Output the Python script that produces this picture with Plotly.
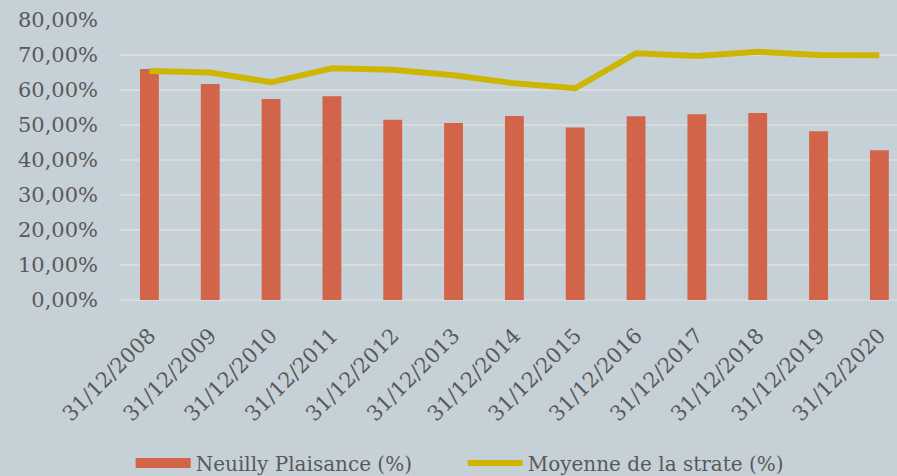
import plotly.graph_objects as go

categories = ["31/12/2008", "31/12/2009", "31/12/2010", "31/12/2011", "31/12/2012",
              "31/12/2013", "31/12/2014", "31/12/2015", "31/12/2016", "31/12/2017",
              "31/12/2018", "31/12/2019", "31/12/2020"]
neuilly = [66.0, 61.7, 57.4, 58.2, 51.5, 50.6, 52.6, 49.3, 52.5, 53.1, 53.4, 48.2, 42.8]
strate = [65.4, 65.0, 62.2, 66.2, 65.8, 64.2, 61.9, 60.5, 70.5, 69.7, 70.9, 70.0, 69.9]
ytick_vals = [0, 10, 20, 30, 40, 50, 60, 70, 80]
ytick_text = ["0,00%", "10,00%", "20,00%", "30,00%", "40,00%", "50,00%", "60,00%", "70,00%", "80,00%"]

bar_color = "#d2644a"
line_color = "#cdb500"
text_color = "#595959"
grid_color = "#d9dadb"
bg = "#c6d1d7"
font_family = "DejaVu Serif"

fig = go.Figure()
fig.add_trace(go.Bar(x=categories, y=neuilly, name="Neuilly Plaisance (%)",
                     marker=dict(color=bar_color, line=dict(width=0)),
                     width=0.31, showlegend=False))
fig.add_trace(go.Scatter(x=[None], y=[None], mode="lines", name="Neuilly Plaisance (%)",
                         line=dict(color=bar_color, width=13)))
fig.add_trace(go.Scatter(x=categories, y=strate, mode="lines", name="Moyenne de la strate (%)",
                         line=dict(color=line_color, width=6)))

fig.update_layout(
    width=897, height=476,
    margin=dict(l=119, r=0, t=20, b=176, autoexpand=False),
    paper_bgcolor=bg, plot_bgcolor=bg,
    font=dict(family=font_family, size=20, color=text_color),
    legend=dict(orientation="h", x=0.015, xanchor="left", y=-0.582, yanchor="middle",
                itemwidth=55, entrywidth=262, font=dict(size=20, color=text_color),
                bgcolor="rgba(0,0,0,0)", traceorder="normal"),
)
fig.update_xaxes(type="category", range=[-0.5, 12.29], tickangle=-45, showgrid=False,
                 showline=False, ticks="", ticklabelstandoff=18, automargin=False,
                 tickfont=dict(size=21, color=text_color))
fig.update_yaxes(range=[0, 80], tickvals=ytick_vals, ticktext=ytick_text,
                 showgrid=True, gridcolor=grid_color, gridwidth=2, zeroline=True,
                 zerolinecolor=grid_color, zerolinewidth=2, showline=False, ticks="",
                 ticklabelstandoff=20, automargin=False,
                 tickfont=dict(size=21, color=text_color))

fig.write_html("out.html", config={"displayModeBar": False},
               post_script="document.body.style.margin='0';document.body.style.background='%s';" % bg)
